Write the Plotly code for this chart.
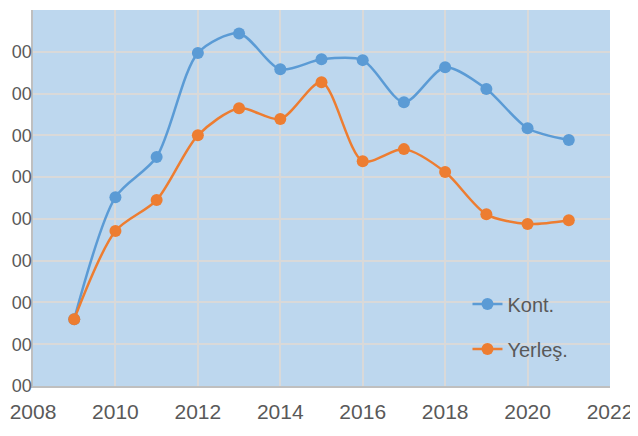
import plotly.graph_objects as go

years = [2009, 2010, 2011, 2012, 2013, 2014, 2015, 2016, 2017, 2018, 2019, 2020, 2021]
kont = [1.60, 4.52, 5.48, 7.97, 8.44, 7.58, 7.82, 7.80, 6.79, 7.63, 7.11, 6.17, 5.89]
yerles = [1.60, 3.71, 4.45, 6.00, 6.65, 6.39, 7.27, 5.38, 5.67, 5.12, 4.11, 3.88, 3.97]
y_ticks = [0, 1, 2, 3, 4, 5, 6, 7, 8, 9]
y_labels = ["00"] * len(y_ticks)

fig = go.Figure()
fig.add_trace(go.Scatter(x=years, y=kont, name="Kont.", mode="lines+markers",
                         line=dict(color="#5B9BD5", width=2.5, shape="spline", smoothing=0.8),
                         marker=dict(size=12, color="#5B9BD5"), legendgroup="a"))
fig.add_trace(go.Scatter(x=years, y=yerles, name="Yerleş.", mode="lines+markers",
                         line=dict(color="#ED7D31", width=2.5, shape="spline", smoothing=0.8),
                         marker=dict(size=12, color="#ED7D31"), legendgroup="b"))

fig.update_layout(
    width=630, height=428,
    margin=dict(l=25, r=28, t=2, b=50),
    paper_bgcolor="white", plot_bgcolor="#BDD7EE",
    font=dict(family="Liberation Sans", size=21, color="#595959"),
    legend=dict(x=0.753, y=0.27, xanchor="left", yanchor="top",
                bgcolor="rgba(0,0,0,0)", tracegroupgap=16,
                font=dict(size=20, color="#595959")),
    xaxis=dict(range=[2008, 2022], dtick=2, tick0=2008, showgrid=True,
               gridcolor="#D9D9D9", gridwidth=1.5, zeroline=False,
               showline=True, linecolor="#BFBFBF", linewidth=1.5,
               automargin=False, ticklabelstandoff=6),
    yaxis=dict(range=[0, 9], tickvals=y_ticks, ticktext=y_labels, showgrid=True,
               gridcolor="#D9D9D9", gridwidth=1.5, zeroline=False,
               showline=True, linecolor="#BFBFBF", linewidth=1.5,
               tickfont=dict(size=18),
               automargin=False, ticklabelstandoff=-4),
)
fig.write_html("out.html")
